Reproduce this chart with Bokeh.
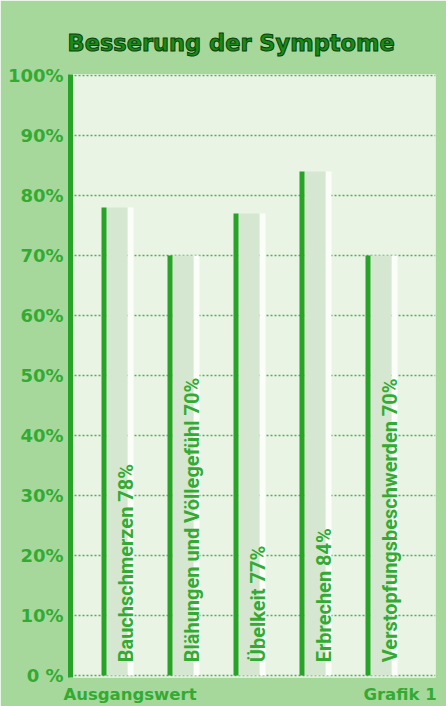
from math import pi
from bokeh.plotting import figure
from bokeh.models import Range1d, FixedTicker, Title
from bokeh.core.properties import value
from bokeh.embed import file_html
from bokeh.resources import INLINE

# ---- data ----
symptoms = ["Bauchschmerzen", "Blähungen und Völlegefühl", "Übelkeit", "Erbrechen", "Verstopfungsbeschwerden"]
improvement = [78, 70, 77, 84, 70]
y_ticks = [0, 10, 20, 30, 40, 50, 60, 70, 80, 90, 100]
y_tick_labels = ["0 %", "10%", "20%", "30%", "40%", "50%", "60%", "70%", "80%", "90%", "100%"]
title_text = "Besserung der Symptome"
baseline_text = "Ausgangswert"
figure_text = "Grafik 1"

# ---- layout constants (pixels) ----
W, H = 446, 706
LEFT, RIGHT, TOP, BOTTOM = 70, 11, 74, 28
PX = 66.0            # pixels per category step
FIRST = 103.5        # pixel x of first bar's green edge
PY = 6.01            # pixels per percent
y0 = -(H - BOTTOM - 676) / PY
y1 = 100 + (75 - TOP) / PY
x0 = (LEFT - FIRST) / PX
x1 = (W - RIGHT - FIRST) / PX

GREEN = "#27a327"
TXT_GREEN = "#33ab33"
FILL = "#d5e7d0"
WHITE = "#fbfdf9"

p = figure(width=W, height=H, output_backend="svg", toolbar_location=None,
           x_range=Range1d(x0, x1), y_range=Range1d(y0, y1),
           min_border_left=LEFT, min_border_right=RIGHT,
           min_border_top=TOP, min_border_bottom=BOTTOM)
p.border_fill_color = "#a6d89c"
p.background_fill_color = "#e9f4e5"
p.outline_line_color = None
p.xgrid.visible = False

# title
t = Title(text=title_text, align="left", offset=-3, standoff=38,
          text_font="DejaVu Sans", text_font_style="bold",
          text_font_size="22.5px", text_color="#188a18")
t.text_outline_color = "#0a400a"
p.title = t

p.ygrid.ticker = FixedTicker(ticks=y_ticks)
p.ygrid.grid_line_color = "#55b055"
p.ygrid.grid_line_width = 1.5
p.ygrid.grid_line_dash = "2 2"

ax = p.yaxis[0]
ax.ticker = FixedTicker(ticks=y_ticks)
ax.major_label_overrides = {t_: l for t_, l in zip(y_ticks, y_tick_labels)}
ax.axis_line_color = GREEN
ax.axis_line_width = 5
ax.major_tick_line_color = None
ax.minor_tick_line_color = None
ax.major_tick_out = 0
ax.major_tick_in = 0
ax.major_label_standoff = 7
ax.major_label_text_font = "DejaVu Sans"
ax.major_label_text_font_style = "bold"
ax.major_label_text_font_size = "18px"
ax.major_label_text_color = TXT_GREEN

# bottom texts via x axis
bx = [(129.5 - FIRST) / PX, (399.5 - FIRST) / PX]
xa = p.xaxis[0]
xa.ticker = FixedTicker(ticks=bx)
xa.major_label_overrides = {bx[0]: baseline_text, bx[1]: figure_text}
xa.axis_line_color = None
xa.major_tick_line_color = None
xa.minor_tick_line_color = None
xa.major_tick_out = 0
xa.major_tick_in = 0
xa.major_label_standoff = 7
xa.major_label_text_font = "DejaVu Sans"
xa.major_label_text_font_style = "bold"
xa.major_label_text_font_size = "16.5px"
xa.major_label_text_color = TXT_GREEN

xs = list(range(len(symptoms)))
# white shadow strip, light fill, green edge
p.vbar(x=[x + 26.5 / PX for x in xs], top=improvement, bottom=0, width=6 / PX,
       fill_color=WHITE, line_color=None)
p.vbar(x=[x + 13.0 / PX for x in xs], top=improvement, bottom=0, width=21 / PX,
       fill_color=FILL, line_color=None)
p.vbar(x=xs, top=improvement, bottom=0, width=5 / PX,
       fill_color=GREEN, line_color=None)

labels = [f"{s} {v}%" for s, v in zip(symptoms, improvement)]
p.text(x=[x + 21.5 / PX for x in xs], y=[2.2] * len(xs), text=labels, angle=pi / 2,
       text_align="left", text_baseline="alphabetic",
       text_font=value("Roboto"), text_font_style="bold",
       text_font_size="20px", text_color=TXT_GREEN)

open("out.html", "w").write(file_html(p, INLINE))
